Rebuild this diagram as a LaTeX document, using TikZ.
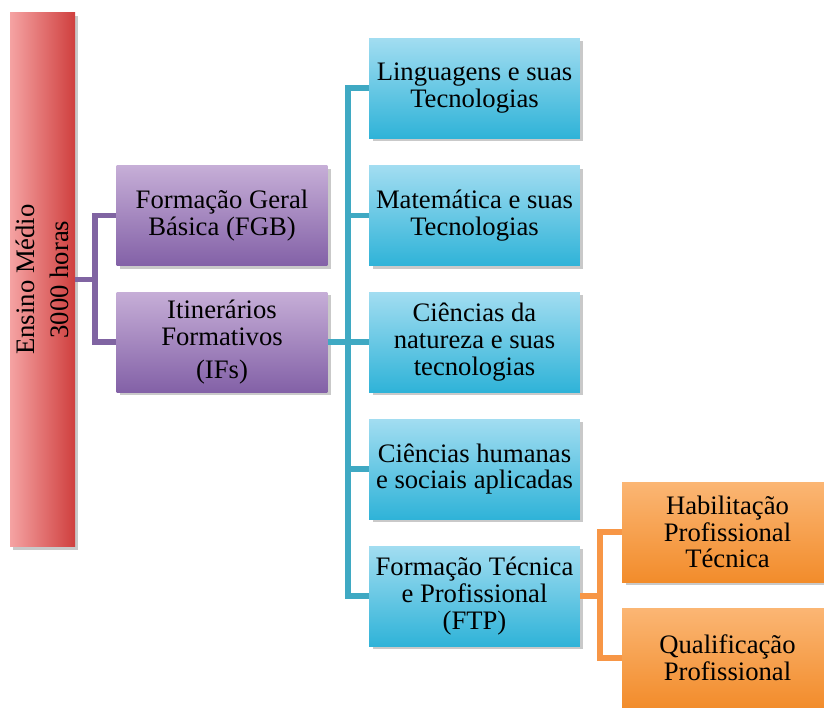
\documentclass[tikz,border=0pt]{standalone}
\usepackage{fontspec}
\setmainfont{Liberation Serif}
\usetikzlibrary{shadows}
\definecolor{rougeA}{HTML}{F5A3A3}
\definecolor{rougeB}{HTML}{CF3F3E}
\definecolor{violetA}{HTML}{C6AED7}
\definecolor{violetB}{HTML}{8361A7}
\definecolor{bleuA}{HTML}{A2DDF1}
\definecolor{bleuB}{HTML}{2FB3D8}
\definecolor{orangeA}{HTML}{FBB674}
\definecolor{orangeB}{HTML}{F28C2B}
\definecolor{traitV}{HTML}{8064A2}
\definecolor{traitB}{HTML}{3FA9C3}
\definecolor{traitO}{HTML}{F79646}
\begin{document}
\begin{tikzpicture}[x=0.75pt,y=-0.75pt]
    \tikzstyle{boite}=[minimum width=158pt,minimum height=75pt,inner sep=0pt,align=center,
                       font=\fontsize{20}{20}\selectfont,
                       drop shadow={shadow xshift=2.5pt,shadow yshift=-2.5pt,opacity=0.35,fill=black!60}]
    \tikzstyle{violet}=[boite,top color=violetA,bottom color=violetB]
    \tikzstyle{bleu}=[boite,top color=bleuA,bottom color=bleuB]
    \tikzstyle{orange}=[boite,top color=orangeA,bottom color=orangeB]
    \tikzstyle{lien}=[line width=4pt]
    \useasboundingbox[fill=white] (0,0) rectangle (824,707);
    % colonne de gauche
    \node[boite,minimum width=401pt,minimum height=48.75pt,rotate=90,
          left color=rougeA,right color=rougeB,
          font=\fontsize{20}{25}\selectfont] (em) at (42.5,279.5) {Ensino Médio\\3000 horas};
    \node[violet] (fgb) at (222,215.5) {Formação Geral\\Básica (FGB)};
    \node[violet] (ifs) at (222,342) {Itinerários\\Formativos\\[5pt](IFs)};
    % areas
    \node[bleu] (lin) at (474.5,88) {Linguagens e suas\\Tecnologias};
    \node[bleu] (mat) at (474.5,215.5) {Matemática e suas\\Tecnologias};
    \node[bleu] (cn) at (474.5,342) {Ciências da\\natureza e suas\\tecnologias};
    \node[bleu] (ch) at (474.5,469) {Ciências humanas\\e sociais aplicadas};
    \node[bleu] (ftp) at (474.5,596) {Formação Técnica\\e Profissional\\(FTP)};
    \node[orange] (hab) at (727.5,532) {Habilitação\\Profissional\\Técnica};
    \node[orange] (qua) at (727.5,658) {Qualificação\\Profissional};
    % liaisons
    \coordinate (jv) at (95,278);
    \coordinate (jb) at (348,342);
    \coordinate (jo) at (600,596);
    \draw[lien,traitV] (em.south) -- (em.south -| jv);
    \draw[lien,traitV] (fgb.west) -| (jv) |- (ifs.west);
    \draw[lien,traitB] (ifs.east) -- (jb);
    \draw[lien,traitB] (lin.west) -| (jb) |- (ftp.west);
    \foreach \n in {mat,cn,ch}
        \draw[lien,traitB] (\n.west) -- (\n.west -| jb);
    \draw[lien,traitO] (ftp.east) -- (jo);
    \draw[lien,traitO] (hab.west) -| (jo) |- (qua.west);
\end{tikzpicture}
\end{document}
